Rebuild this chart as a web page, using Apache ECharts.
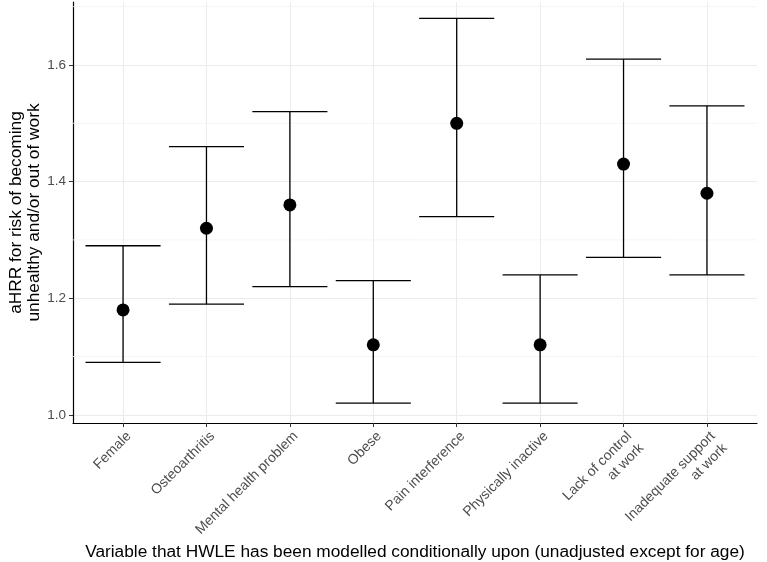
<!DOCTYPE html>
<html>
<head>
<meta charset="utf-8">
<script src="https://cdn.jsdelivr.net/npm/echarts@6/dist/echarts.min.js"></script>
<style>
html,body{margin:0;padding:0;background:#fff;}
#c{width:767px;height:562px;}
</style>
</head>
<body>
<div id="c"></div>
<script>
var categories = ['Female','Osteoarthritis','Mental health problem','Obese','Pain interference','Physically inactive','Lack of control\nat work','Inadequate support\nat work'];
var estimates = [1.18, 1.32, 1.36, 1.12, 1.50, 1.12, 1.43, 1.38];
var lowerCI  = [1.09, 1.19, 1.22, 1.02, 1.34, 1.02, 1.27, 1.24];
var upperCI  = [1.29, 1.46, 1.52, 1.23, 1.68, 1.24, 1.61, 1.53];
var yTicks = [1.0, 1.2, 1.4, 1.6];
var yMinorTicks = [1.1, 1.3, 1.5, 1.7];
var xTicks = categories.map(function(c, i){ return i; });

var chart = echarts.init(document.getElementById('c'));
var font = '"Liberation Sans", Arial, sans-serif';

var errData = categories.map(function(c, i){ return [i, lowerCI[i], upperCI[i]]; });
var ptData = categories.map(function(c, i){ return [i, estimates[i]]; });
var X_MIN = -0.6, X_MAX = 7.6;

chart.setOption({
  animation: false,
  grid: {left: 73, right: 10, top: 2, bottom: 139, containLabel: false, outerBoundsMode: 'none'},
  xAxis: {
    type: 'value', min: X_MIN, max: X_MAX,
    name: 'Variable that HWLE has been modelled conditionally upon (unadjusted except for age)',
    nameLocation: 'middle', nameGap: 121, nameMoveOverlap: false,
    nameTextStyle: {fontFamily: font, fontSize: 17.3, color: '#000'},
    axisLine: {show: true, onZero: false, lineStyle: {color: '#000', width: 1.2}},
    axisTick: {show: true, length: 4, customValues: xTicks, lineStyle: {color: '#333', width: 1}},
    axisLabel: {
      customValues: xTicks, rotate: 45, margin: 5, verticalAlign: 'top', align: 'right',
      fontFamily: font, fontSize: 14, color: '#4d4d4d', lineHeight: 17,
      formatter: function(v){ return categories[Math.round(v)] || ''; }
    },
    splitLine: {show: true, lineStyle: {color: '#ebebeb', width: 1}}
  },
  yAxis: {
    type: 'value', min: 0.986, max: 1.708,
    name: 'aHRR for risk of becoming\nunhealthy and/or out of work',
    nameLocation: 'middle', nameGap: 30, nameRotate: 90, nameMoveOverlap: false,
    nameTextStyle: {fontFamily: font, fontSize: 17.3, color: '#000', lineHeight: 18},
    axisLine: {show: true, onZero: false, lineStyle: {color: '#000', width: 1.2}},
    axisTick: {show: true, length: 4, customValues: yTicks, lineStyle: {color: '#333', width: 1}},
    axisLabel: {
      customValues: yTicks, margin: 7,
      fontFamily: font, fontSize: 13.5, color: '#4d4d4d',
      formatter: function(v){ return v.toFixed(1); }
    },
    splitLine: {show: true, lineStyle: {color: '#ebebeb', width: 1}}
  },
  series: [
    {
      type: 'custom', z: 1, silent: true,
      data: yMinorTicks,
      encode: {y: 0},
      renderItem: function(params, api){
        var v = api.value(0);
        var a = api.coord([X_MIN, v]);
        var b = api.coord([X_MAX, v]);
        return {type: 'line', shape: {x1: a[0], y1: a[1], x2: b[0], y2: b[1]},
                style: {stroke: '#f3f3f3', lineWidth: 0.8}};
      }
    },
    {
      type: 'custom', z: 3,
      data: errData,
      renderItem: function(params, api){
        var x = api.value(0);
        var lo = api.coord([x, api.value(1)]);
        var hi = api.coord([x, api.value(2)]);
        var hw = api.size([0.9, 0])[0] / 2;
        var st = {stroke: '#000', lineWidth: 1.3};
        return {type: 'group', children: [
          {type: 'line', shape: {x1: lo[0], y1: lo[1], x2: hi[0], y2: hi[1]}, style: st},
          {type: 'line', shape: {x1: lo[0]-hw, y1: lo[1], x2: lo[0]+hw, y2: lo[1]}, style: st},
          {type: 'line', shape: {x1: hi[0]-hw, y1: hi[1], x2: hi[0]+hw, y2: hi[1]}, style: st}
        ]};
      }
    },
    {
      type: 'scatter', z: 4, data: ptData, symbol: 'circle', symbolSize: 13,
      itemStyle: {color: '#000', opacity: 1}
    }
  ]
});
</script>
</body>
</html>
